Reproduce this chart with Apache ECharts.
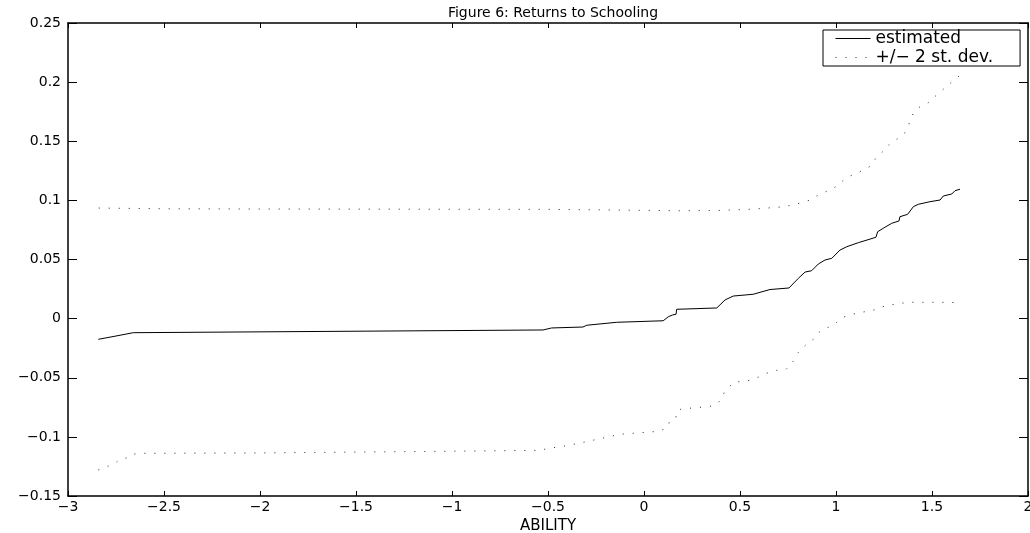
<!DOCTYPE html>
<html>
<head>
<meta charset="utf-8">
<title>Figure 6: Returns to Schooling</title>
<script src="https://cdn.jsdelivr.net/npm/echarts@6/dist/echarts.min.js"></script>
<style>
  html, body { margin: 0; padding: 0; background: #fff; }
  #main { width: 1030px; height: 533px; }
</style>
</head>
<body>
<div id="main"></div>
<script>
// data: [ability, return]
var estimated = [
  [-2.842, -0.0175], [-2.75, -0.0147], [-2.743, -0.0136], [-2.66, -0.0119], [-2.656, -0.0105],
  [-0.526, -0.0096], [-0.481, -0.0079], [-0.318, -0.0071], [-0.298, -0.0056], [-0.142, -0.0031],
  [0.100, -0.0018], [0.127, 0.0016], [0.149, 0.0031], [0.167, 0.0037], [0.170, 0.0079],
  [0.379, 0.0090], [0.422, 0.0158], [0.465, 0.0191], [0.569, 0.0206], [0.656, 0.0246],
  [0.755, 0.0259], [0.804, 0.0341], [0.839, 0.0394], [0.873, 0.0405], [0.908, 0.0462],
  [0.943, 0.0496], [0.978, 0.0510], [1.021, 0.0580], [1.056, 0.0608], [1.116, 0.0642],
  [1.208, 0.0688], [1.217, 0.0735], [1.246, 0.0764], [1.290, 0.0806], [1.328, 0.0826],
  [1.333, 0.0862], [1.373, 0.0882], [1.403, 0.0947], [1.429, 0.0967], [1.490, 0.0989],
  [1.542, 0.1003], [1.559, 0.1037], [1.603, 0.1054], [1.620, 0.1082], [1.646, 0.1094]
];
var upperBand = [
  [-2.84, 0.0935], [-2.5, 0.0929], [-2.0, 0.0927], [-1.5, 0.0926], [-1.0, 0.0925],
  [-0.5, 0.0924], [-0.3, 0.0921], [0.0, 0.0916], [0.18, 0.0912], [0.4, 0.0915],
  [0.578, 0.0927], [0.734, 0.0947], [0.821, 0.0980], [0.865, 0.1003], [0.899, 0.1037],
  [0.934, 0.1065], [0.978, 0.1094], [1.004, 0.1122], [1.030, 0.1158], [1.064, 0.1200],
  [1.108, 0.1229], [1.142, 0.1257], [1.181, 0.1291], [1.212, 0.1369], [1.246, 0.1415],
  [1.264, 0.1454], [1.290, 0.1488], [1.324, 0.1525], [1.359, 0.1572], [1.385, 0.1665],
  [1.406, 0.1750], [1.438, 0.1792], [1.481, 0.1826], [1.524, 0.1891], [1.550, 0.1927],
  [1.585, 0.1976], [1.611, 0.2012], [1.641, 0.2052]
];
var lowerBand = [
  [-2.842, -0.1280], [-2.798, -0.1252], [-2.755, -0.1224], [-2.729, -0.1190], [-2.681, -0.1173],
  [-2.656, -0.1145], [-2.608, -0.1139], [-2.0, -0.1136], [-1.254, -0.1125], [-0.542, -0.1114],
  [-0.498, -0.1097], [-0.403, -0.1075], [-0.307, -0.1043], [-0.220, -0.1012], [-0.125, -0.0978],
  [-0.021, -0.0965], [0.074, -0.0953], [0.118, -0.0928], [0.132, -0.0877], [0.167, -0.0843],
  [0.167, -0.0792], [0.193, -0.0764], [0.292, -0.0750], [0.344, -0.0742], [0.382, -0.0722],
  [0.405, -0.0674], [0.417, -0.0627], [0.443, -0.0581], [0.465, -0.0539], [0.517, -0.0530],
  [0.566, -0.0518], [0.604, -0.0487], [0.647, -0.0457], [0.691, -0.0437], [0.740, -0.0429],
  [0.765, -0.0386], [0.786, -0.0341], [0.800, -0.0293], [0.823, -0.0251], [0.852, -0.0209],
  [0.882, -0.0175], [0.899, -0.0130], [0.930, -0.0094], [0.972, -0.0065], [1.004, -0.0031],
  [1.030, 0.0008], [1.073, 0.0031], [1.118, 0.0050], [1.165, 0.0062], [1.212, 0.0079],
  [1.250, 0.0104], [1.292, 0.0118], [1.339, 0.0130], [1.387, 0.0138], [1.438, 0.0138],
  [1.538, 0.0138], [1.639, 0.0135]
];
var legendNames = ['estimated', '+/\u2212 2 st. dev.'];

var font = 'DejaVu Sans';
var minus = function (v) { return String(v).replace('-', '\u2212'); };

var myChart = echarts.init(document.getElementById('main'));
myChart.setOption({
  animation: false,
  backgroundColor: '#fff',
  title: {
    text: 'Figure 6: Returns to Schooling',
    left: 548,
    top: 1,
    textAlign: 'center',
    textStyle: { fontFamily: font, fontSize: 14, fontWeight: 'normal', color: '#000' }
  },
  legend: {
    data: legendNames,
    orient: 'vertical',
    left: 823,
    top: 30,
    padding: [0, 27, 0, 12],
    itemWidth: 35,
    itemHeight: 13,
    itemGap: 2,
    itemTextGap: 20,
    backgroundColor: '#fff',
    borderColor: '#000',
    borderWidth: 1,
    borderRadius: 0,
    itemStyle: { opacity: 0 },
    lineStyle: { width: 1 },
    textStyle: { fontFamily: font, fontSize: 17, color: '#000', lineHeight: 13 }
  },
  grid: { left: 68, right: 2, top: 23, bottom: 37, outerBoundsMode: 'none' },
  xAxis: [
    {
      type: 'value', min: -3, max: 2, interval: 0.5,
      name: 'ABILITY', nameLocation: 'middle', nameGap: 18,
      nameTextStyle: { fontFamily: font, fontSize: 15, color: '#000' },
      axisLine: { onZero: false, lineStyle: { color: '#000', width: 1.5 } },
      axisTick: { inside: true, length: 5, lineStyle: { color: '#000' } },
      axisLabel: { margin: 4, fontFamily: font, fontSize: 14, color: '#000', formatter: minus },
      splitLine: { show: false }
    },
    {
      type: 'value', min: -3, max: 2, interval: 0.5, position: 'top',
      axisLine: { onZero: false, lineStyle: { color: '#000', width: 1.5 } },
      axisTick: { inside: true, length: 5, lineStyle: { color: '#000' } },
      axisLabel: { show: false },
      splitLine: { show: false }
    }
  ],
  yAxis: [
    {
      type: 'value', min: -0.15, max: 0.25, interval: 0.05,
      axisLine: { show: true, onZero: false, lineStyle: { color: '#000', width: 1.5 } },
      axisTick: { show: true, inside: true, length: 9, lineStyle: { color: '#000' } },
      axisLabel: { margin: 7, fontFamily: font, fontSize: 14, color: '#000', formatter: minus },
      splitLine: { show: false }
    },
    {
      type: 'value', min: -0.15, max: 0.25, interval: 0.05, position: 'right',
      axisLine: { show: true, onZero: false, lineStyle: { color: '#000', width: 1.5 } },
      axisTick: { show: true, inside: true, length: 9, lineStyle: { color: '#000' } },
      axisLabel: { show: false },
      splitLine: { show: false }
    }
  ],
  series: [
    {
      name: legendNames[0],
      type: 'line',
      data: estimated,
      symbol: 'none',
      color: '#000',
      lineStyle: { color: '#000', width: 1 }
    },
    {
      name: legendNames[1],
      type: 'line',
      data: upperBand,
      symbol: 'none',
      color: '#222',
      lineStyle: { color: '#222', width: 1, type: [1, 9] }
    },
    {
      name: legendNames[1],
      type: 'line',
      data: lowerBand,
      symbol: 'none',
      color: '#222',
      lineStyle: { color: '#222', width: 1, type: [1, 9] }
    }
  ]
});
</script>
</body>
</html>
